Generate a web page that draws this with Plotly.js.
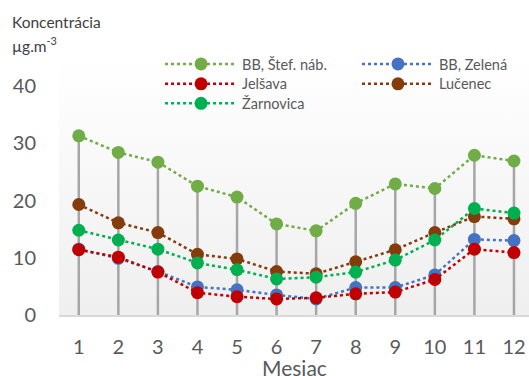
<!DOCTYPE html>
<html>
<head>
<meta charset="utf-8">
<script src="https://cdn.plot.ly/plotly-3.0.1.min.js"></script>
<style>
html,body{margin:0;padding:0;background:#fff;}
#wrap{position:relative;width:529px;height:376px;overflow:hidden;}
#bg{position:absolute;left:59px;top:60px;width:470px;height:255px;background:linear-gradient(#ffffff,#efefef);}
#chart{position:absolute;left:0;top:0;width:529px;height:376px;}
</style>
</head>
<body>
<div id="wrap"><div id="bg"></div><div id="chart"></div></div>
<script>
const months = [1,2,3,4,5,6,7,8,9,10,11,12];
const seriesNames = ["BB, Štef. náb.", "BB, Zelená", "Jelšava", "Lučenec", "Žarnovica"];
const bbStef   = [31.3, 28.4, 26.7, 22.5, 20.6, 15.9, 14.7, 19.5, 22.9, 22.1, 27.9, 26.9];
const bbZelena = [11.5, 9.9, 7.6, 4.9, 4.4, 3.5, 2.8, 4.8, 4.8, 7.0, 13.2, 13.0];
const jelsava  = [11.4, 10.1, 7.5, 3.9, 3.2, 2.8, 3.0, 3.7, 4.0, 6.2, 11.5, 10.9];
const lucenec  = [19.3, 16.1, 14.4, 10.6, 9.8, 7.6, 7.2, 9.3, 11.4, 14.4, 17.2, 16.8];
const zarnovica= [14.8, 13.1, 11.5, 9.1, 7.9, 6.3, 6.6, 7.5, 9.6, 13.1, 18.6, 17.8];
const colors = ["#70AD47", "#4472C4", "#C00000", "#843C0C", "#00B050"];
const legendIds = ["legend", "legend2", "legend3", "legend4", "legend5"];
const yTicks = [0, 10, 20, 30, 40];

const allSeries = [bbStef, bbZelena, jelsava, lucenec, zarnovica];

// drop lines from axis to highest value each month
const dropX = [], dropY = [];
months.forEach((m, i) => {
  const mx = Math.max(...allSeries.map(s => s[i]));
  dropX.push(m, m, null);
  dropY.push(0, mx, null);
});

const traces = [{
  x: dropX, y: dropY, mode: 'lines', type: 'scatter',
  line: {color: '#A6A6A6', width: 2.5},
  hoverinfo: 'skip', showlegend: false
}];
allSeries.forEach((s, k) => {
  traces.push({
    x: months, y: s, name: seriesNames[k], type: 'scatter', mode: 'lines+markers',
    legend: legendIds[k],
    line: {color: colors[k], width: 2.5, dash: 'dot'},
    marker: {color: colors[k], size: 13}
  });
});

const fontFam = 'Lato, "Open Sans", sans-serif';
const legendBase = {
  orientation: 'v', xanchor: 'left', yanchor: 'top',
  itemwidth: 72, font: {size: 14.5, family: fontFam, color: '#595959'},
  bgcolor: 'rgba(0,0,0,0)', traceorder: 'normal'
};
const colX = [0.215, 0.634];
const rowY = [1.166, 1.079, 0.994];
const layout = {
  width: 529, height: 376,
  margin: {l: 59, r: 0, t: 86, b: 61},
  paper_bgcolor: 'rgba(0,0,0,0)',
  plot_bgcolor: 'rgba(0,0,0,0)',
  font: {family: fontFam, color: '#595959'},
  showlegend: true,
  legend:  Object.assign({}, legendBase, {x: colX[0], y: rowY[0]}),
  legend2: Object.assign({}, legendBase, {x: colX[1], y: rowY[0]}),
  legend3: Object.assign({}, legendBase, {x: colX[0], y: rowY[1]}),
  legend4: Object.assign({}, legendBase, {x: colX[1], y: rowY[1]}),
  legend5: Object.assign({}, legendBase, {x: colX[0], y: rowY[2]}),
  xaxis: {
    range: [0.5, 12.38], tickvals: months, ticktext: months.map(String),
    showgrid: false, zeroline: false, showline: true, linecolor: '#D9D9D9', linewidth: 2,
    ticks: '', ticklabelstandoff: 13,
    tickfont: {size: 20, family: fontFam, color: '#595959'},
    fixedrange: true
  },
  yaxis: {
    range: [0, 40], tickvals: yTicks, ticktext: yTicks.map(String),
    showgrid: false, zeroline: false, showline: false, ticks: '',
    ticklabelstandoff: 22,
    tickfont: {size: 20, family: fontFam, color: '#595959'},
    fixedrange: true
  },
  annotations: [
    {text: 'Koncentrácia', xref: 'paper', yref: 'paper', x: -0.104, y: 1.28, xanchor: 'left', yanchor: 'middle',
     showarrow: false, font: {size: 15.5, family: fontFam, color: '#404040'}},
    {text: 'µg.m<sup>-3</sup>', xref: 'paper', yref: 'paper', x: -0.104, y: 1.18, xanchor: 'left', yanchor: 'middle',
     showarrow: false, font: {size: 15.5, family: fontFam, color: '#404040'}},
    {text: 'Mesiac', xref: 'paper', yref: 'paper', x: 0.5, y: -0.168, xanchor: 'center', yanchor: 'top',
     showarrow: false, font: {size: 21, family: fontFam, color: '#595959'}}
  ]
};
Plotly.newPlot('chart', traces, layout, {displayModeBar: false, staticPlot: true});
</script>
</body>
</html>
